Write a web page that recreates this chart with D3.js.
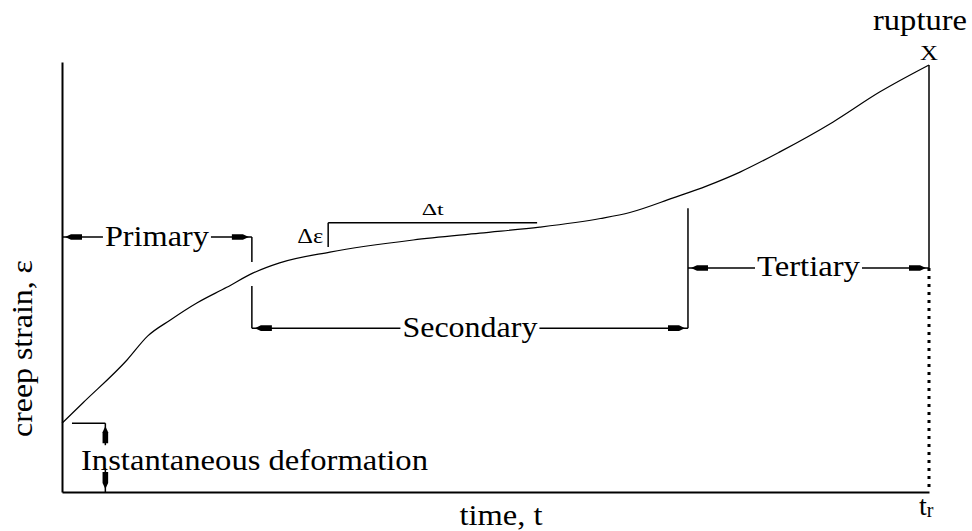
<!DOCTYPE html>
<html>
<head>
<meta charset="utf-8">
<script src="https://cdn.jsdelivr.net/npm/d3@7"></script>
<style>
  body { margin: 0; background: #fff; }
  svg { display: block; }
  text { font-family: "Liberation Serif", "Times New Roman", serif; fill: #000; }
</style>
</head>
<body>
<div id="chart"></div>
<script>
// creep curve: time in % of rupture time, strain in % of axis height
var timePts   = [0, 2.4, 7.5, 9.9, 12.5, 15.6, 19.0, 22.0, 25.1, 30.9, 40.5, 48.2, 55.1, 62.1, 65.5, 70.5, 74.4, 78.2, 82.8, 88.9, 94.3, 100];
var strainPts = [16.0, 20.7, 30.7, 36.3, 40.0, 44.0, 47.6, 50.9, 53.3, 55.8, 58.6, 60.2, 61.6, 63.6, 65.0, 68.4, 71.2, 74.4, 79.1, 86.0, 93.0, 99.3];

// creep stages (start / end on the time axis)
var stageNames = ["Primary", "Secondary", "Tertiary"];
var stageStart = [0, 21.9, 72.2];
var stageEnd   = [21.9, 72.2, 100];

// slope triangle on the secondary stage
var slopeTime   = [30.7, 54.8];
var slopeStrain = [57.0, 62.6];

var width = 972, height = 531;

var svg = d3.select("#chart")
  .append("svg")
    .attr("width", width)
    .attr("height", height);

var x = d3.scaleLinear().domain([0, 100]).range([62, 929]);
var y = d3.scaleLinear().domain([0, 100]).range([492, 62]);

// arrow heads used by the dimension lines
var defs = svg.append("defs");
defs.append("marker")
    .attr("id", "head")
    .attr("markerUnits", "userSpaceOnUse")
    .attr("viewBox", "-19 -4 24 8")
    .attr("markerWidth", 24)
    .attr("markerHeight", 8)
    .attr("refX", 3)
    .attr("refY", 0)
    .attr("orient", "auto-start-reverse")
  .append("path")
    .attr("d", "M0,0 L-6,-2.8 L-17,-2.8 L-17,2.8 L-6,2.8 Z")
    .attr("fill", "#000");

// axes, no ticks
svg.append("g")
    .attr("transform", "translate(0," + y(0) + ")")
    .call(d3.axisBottom(x).tickValues([]).tickSizeOuter(0));
svg.append("g")
    .attr("transform", "translate(" + x(0) + ",0)")
    .call(d3.axisLeft(y).tickValues([]).tickSizeOuter(0));
svg.selectAll(".domain").attr("stroke", "#000").attr("stroke-width", 2);

// the creep curve
var pts = timePts.map(function(t, i) { return [t, strainPts[i]]; });
var line = d3.line()
    .curve(d3.curveMonotoneX)
    .x(function(d) { return x(d[0]); })
    .y(function(d) { return y(d[1]); });

svg.append("path")
    .datum(pts)
    .attr("d", line)
    .attr("fill", "none")
    .attr("stroke", "#000")
    .attr("stroke-width", 1.2);

var g = svg.append("g")
    .attr("stroke", "#000")
    .attr("stroke-width", 1.5)
    .attr("fill", "none");

function seg(x1, y1, x2, y2, arrow) {
  var l = g.append("line")
      .attr("x1", x1).attr("y1", y1)
      .attr("x2", x2).attr("y2", y2);
  if (arrow) l.attr("marker-start", "url(#head)").attr("marker-end", "url(#head)");
  return l;
}
function segEnd(x1, y1, x2, y2) {
  return g.append("line")
      .attr("x1", x1).attr("y1", y1)
      .attr("x2", x2).attr("y2", y2)
      .attr("marker-end", "url(#head)");
}

function label(str, cx, base, size, len) {
  var t = svg.append("text")
      .attr("x", cx)
      .attr("y", base)
      .attr("text-anchor", "middle")
      .style("font-size", size + "px")
      .text(str);
  if (len) t.attr("textLength", len).attr("lengthAdjust", "spacingAndGlyphs");
  return t;
}

// stage dimension lines, label sits in a gap of the line
var levels = [59.3, 38.1, 52.1];
var textLen = [104, 135, 103];
stageNames.forEach(function(name, i) {
  var x1 = x(stageStart[i]), x2 = x(stageEnd[i]), yy = y(levels[i]);
  var cx = (x1 + x2) / 2;
  seg(x1, yy, x2, yy, true);
  svg.append("rect")
      .attr("x", cx - textLen[i] / 2 - 2)
      .attr("y", yy - 14)
      .attr("width", textLen[i] + 4)
      .attr("height", 28)
      .attr("fill", "#fff");
  label(name, cx, yy + 8.5, 29, textLen[i]);
});

// extension lines
seg(x(stageEnd[0]), y(59.3), x(stageEnd[0]), y(53.5));
seg(x(stageStart[1]), y(47.9), x(stageStart[1]), y(38.1));
seg(x(stageEnd[1]), y(66.0), x(stageEnd[1]), y(38.1));
seg(x(100), y(strainPts[strainPts.length - 1]), x(100), y(52.1));
seg(x(100), y(52.1), x(100), y(0))
    .attr("stroke-width", 3)
    .attr("stroke-dasharray", "3 5");

// instantaneous deformation
var y0 = y(strainPts[0]);
seg(x(1.15), y0, x(5.0), y0);
segEnd(x(5.0), y0 + 22, x(5.0), y0);
segEnd(x(5.0), y(0) - 24, x(5.0), y(0));
svg.append("text")
    .attr("x", 81)
    .attr("y", 470)
    .style("font-size", "29px")
    .attr("textLength", 347)
    .attr("lengthAdjust", "spacingAndGlyphs")
    .text("Instantaneous deformation");

// slope triangle
seg(x(slopeTime[0]), y(slopeStrain[0]), x(slopeTime[0]), y(slopeStrain[1]));
seg(x(slopeTime[0]), y(slopeStrain[1]), x(slopeTime[1]), y(slopeStrain[1]));
label("Δε", x(slopeTime[0]) - 18, y(slopeStrain[1]) + 20, 21, 26);
label("Δt", (x(slopeTime[0]) + x(slopeTime[1])) / 2, y(slopeStrain[1]) - 8, 16, 22);

// rupture mark
label("rupture", 920, 30, 29, 94);
label("X", x(100), 60, 22, 18);

// axis titles
label("time, t", 501, 525, 29, 83);
svg.append("text")
    .attr("transform", "translate(32," + 348.5 + ") rotate(-90)")
    .attr("text-anchor", "middle")
    .style("font-size", "29px")
    .attr("textLength", 177)
    .attr("lengthAdjust", "spacingAndGlyphs")
    .text("creep strain, ε");

var tr = svg.append("text")
    .attr("x", 919)
    .attr("y", 515)
    .style("font-size", "28px");
tr.append("tspan").text("t");
tr.append("tspan").attr("dy", 2).style("font-size", "20px").text("r");
</script>
</body>
</html>
